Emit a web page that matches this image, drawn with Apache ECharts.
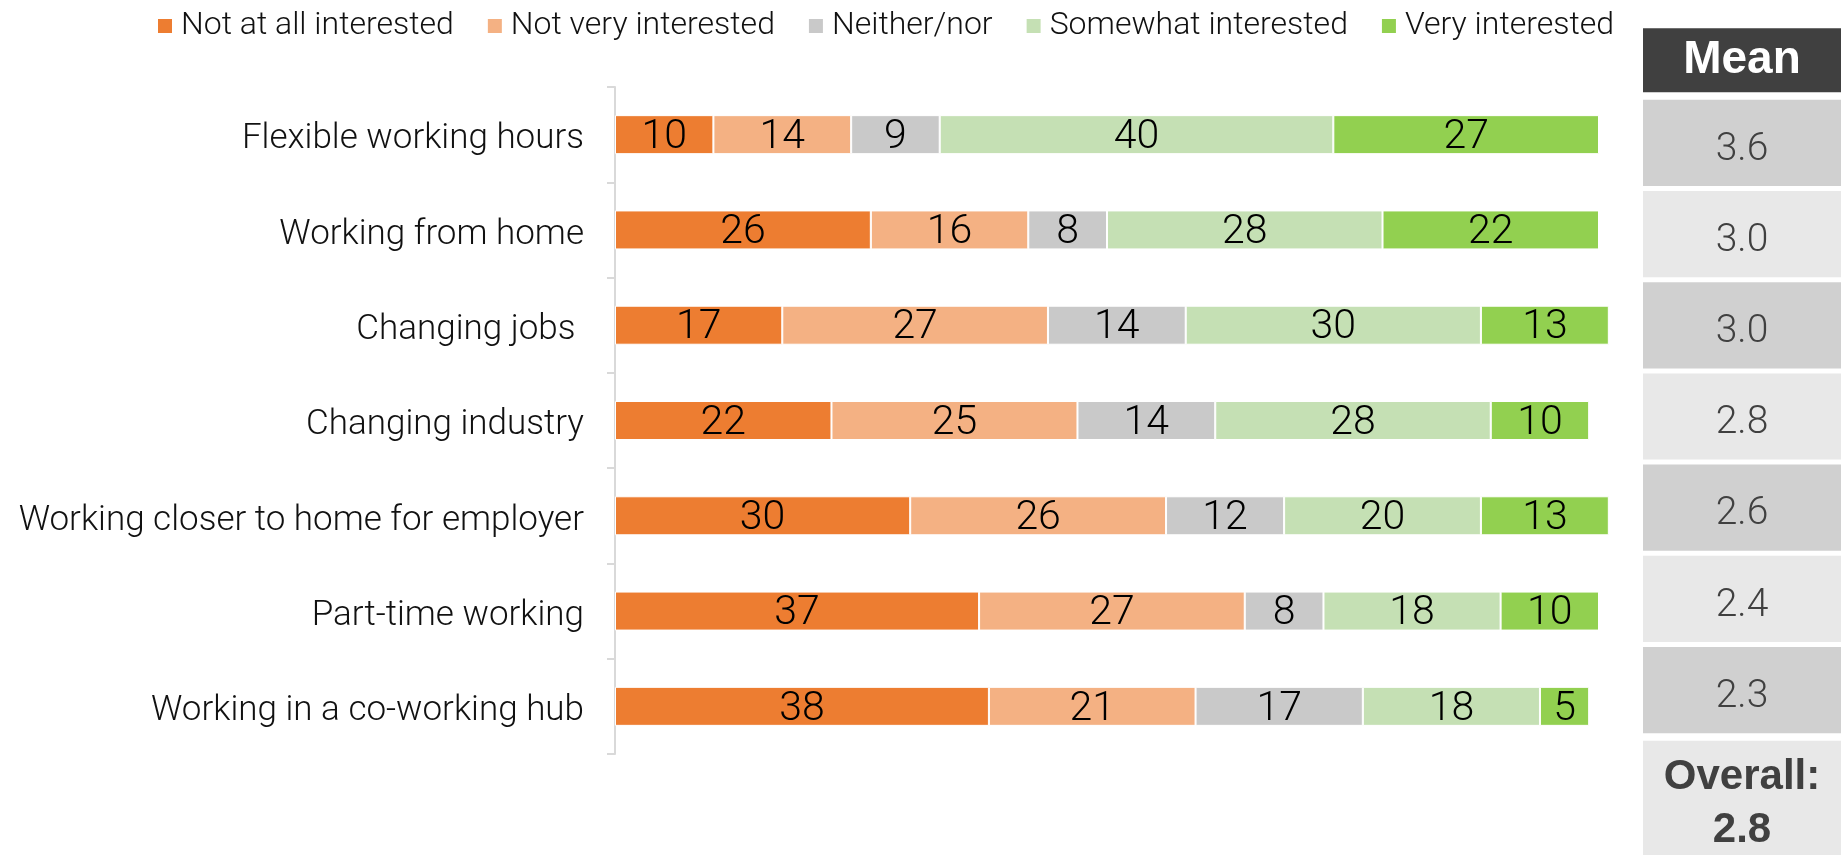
<!DOCTYPE html>
<html>
<head>
<meta charset="utf-8">
<title>Interest in working arrangements</title>
<script src="https://cdn.jsdelivr.net/npm/echarts@6/dist/echarts.min.js"></script>
<style>
  html, body { margin: 0; padding: 0; background: #fff; }
  #chart { width: 1841px; height: 855px; }
</style>
</head>
<body>
<div id="chart"></div>
<script>
// Survey items, top to bottom
const categories = [
  'Flexible working hours',
  'Working from home',
  'Changing jobs ',
  'Changing industry',
  'Working closer to home for employer',
  'Part-time working',
  'Working in a co-working hub'
];

// Response shares (%) per item
const notAtAllInterested = [10, 26, 17, 22, 30, 37, 38];
const notVeryInterested  = [14, 16, 27, 25, 26, 27, 21];
const neitherNor         = [9, 8, 14, 14, 12, 8, 17];
const somewhatInterested = [40, 28, 30, 28, 20, 18, 18];
const veryInterested     = [27, 22, 13, 10, 13, 10, 5];

// Mean score column
const meanHeader = 'Mean';
const meanScores = [3.6, 3.0, 3.0, 2.8, 2.6, 2.4, 2.3];
const overallLabel = 'Overall:';
const overallMean = 2.8;

const seriesNames = ['Not at all interested', 'Not very interested', 'Neither/nor', 'Somewhat interested', 'Very interested'];
const seriesValues = [notAtAllInterested, notVeryInterested, neitherNor, somewhatInterested, veryInterested];
const seriesColors = ['#ED7D31', '#F4B183', '#C9C9C9', '#C5E0B4', '#92D050'];

const bodyFont = 'Roboto, "Open Sans", "Liberation Sans", sans-serif';
const headFont = '"Liberation Sans", Arial, sans-serif';

// Rows of the mean column: header, one cell per item, overall
const tableRows = [meanHeader]
  .concat(meanScores.map(v => v.toFixed(1)))
  .concat([overallLabel + '\n' + overallMean.toFixed(1)]);

const chart = echarts.init(document.getElementById('chart'), null, { renderer: 'canvas' });

const barSeries = seriesNames.map((name, i) => ({
  name: name,
  type: 'bar',
  stack: 'total',
  xAxisIndex: 0,
  yAxisIndex: 0,
  barWidth: 39,
  clip: false,
  itemStyle: { color: seriesColors[i], borderColor: '#ffffff', borderWidth: 1 },
  label: {
    show: true,
    position: 'inside',
    color: '#000000',
    fontFamily: bodyFont,
    fontWeight: 300,
    fontSize: 41,
    offset: [0, 3],
    formatter: '{c}'
  },
  emphasis: { disabled: true },
  data: seriesValues[i]
}));

const tableSeries = {
  name: 'table',
  type: 'custom',
  xAxisIndex: 1,
  yAxisIndex: 1,
  silent: true,
  data: tableRows.map((t, i) => [1, i]),
  encode: { x: 0, y: 1 },
  renderItem: function (params, api) {
    const idx = api.value(1);
    const left = api.coord([0, idx]);
    const right = api.coord([1, idx]);
    const band = api.size([0, 1])[1];
    const gap = 5;
    const x = left[0];
    const w = right[0] - left[0];
    const bandTop = left[1] - band / 2;
    const bandBottom = left[1] + band / 2;
    const last = tableRows.length - 1;
    let y, h, fill, textColor, font, shift = 0;
    if (idx === 0) {
      h = band * 0.70;
      y = bandBottom - gap - h;
      fill = '#404040';
      textColor = '#ffffff';
      font = 'bold 46px ' + headFont;
    } else if (idx === last) {
      y = bandTop + gap;
      h = band * 1.35;
      fill = '#E8E8E8';
      textColor = '#404040';
      font = 'bold 42px ' + headFont;
      shift = 2;
    } else {
      y = bandTop + gap / 2;
      h = band - gap;
      fill = idx % 2 === 1 ? '#D0D0D0' : '#E8E8E8';
      textColor = '#404040';
      font = '300 39px ' + bodyFont;
      shift = 7;
    }
    return {
      type: 'group',
      children: [
        { type: 'rect', shape: { x: x, y: y, width: w, height: h }, style: { fill: fill } },
        {
          type: 'text',
          style: {
            x: x + w / 2,
            y: y + h / 2 + shift,
            text: tableRows[idx],
            fill: textColor,
            font: font,
            align: 'center',
            verticalAlign: 'middle',
            lineHeight: 53
          }
        }
      ]
    };
  }
};

const option = {
  animation: false,
  backgroundColor: '#ffffff',
  legend: {
    data: seriesNames,
    left: 156,
    top: 10,
    padding: 0,
    itemWidth: 16,
    itemHeight: 16,
    itemGap: 32,
    icon: 'rect',
    selectedMode: false,
    textStyle: { fontFamily: bodyFont, fontWeight: 300, fontSize: 32, color: '#111111', padding: [0, 0, 0, 3] }
  },
  grid: [
    { left: 615, right: 242, top: 87, bottom: 101 },
    { left: 1643, width: 204, top: 6, height: 821 }
  ],
  xAxis: [
    { type: 'value', gridIndex: 0, min: 0, max: 100, show: false },
    { type: 'value', gridIndex: 1, min: 0, max: 1, show: false }
  ],
  yAxis: [
    {
      type: 'category',
      gridIndex: 0,
      inverse: true,
      data: categories,
      axisLine: { show: true, lineStyle: { color: '#D9D9D9', width: 2 } },
      axisTick: { show: true, length: 8, lineStyle: { color: '#D9D9D9', width: 2 } },
      axisLabel: {
        margin: 31,
        color: '#111111',
        fontFamily: bodyFont,
        fontWeight: 300,
        fontSize: 35,
        formatter: function (value) { return '{cat|' + value + '}'; },
        rich: {
          cat: {
            color: '#111111',
            fontFamily: bodyFont,
            fontWeight: 300,
            fontSize: 35,
            padding: [10, 0, 0, 0]
          }
        }
      },
      splitLine: { show: false }
    },
    {
      type: 'category',
      gridIndex: 1,
      inverse: true,
      data: tableRows.map((t, i) => String(i)),
      show: false
    }
  ],
  series: barSeries.concat([tableSeries])
};

chart.setOption(option);
</script>
</body>
</html>
